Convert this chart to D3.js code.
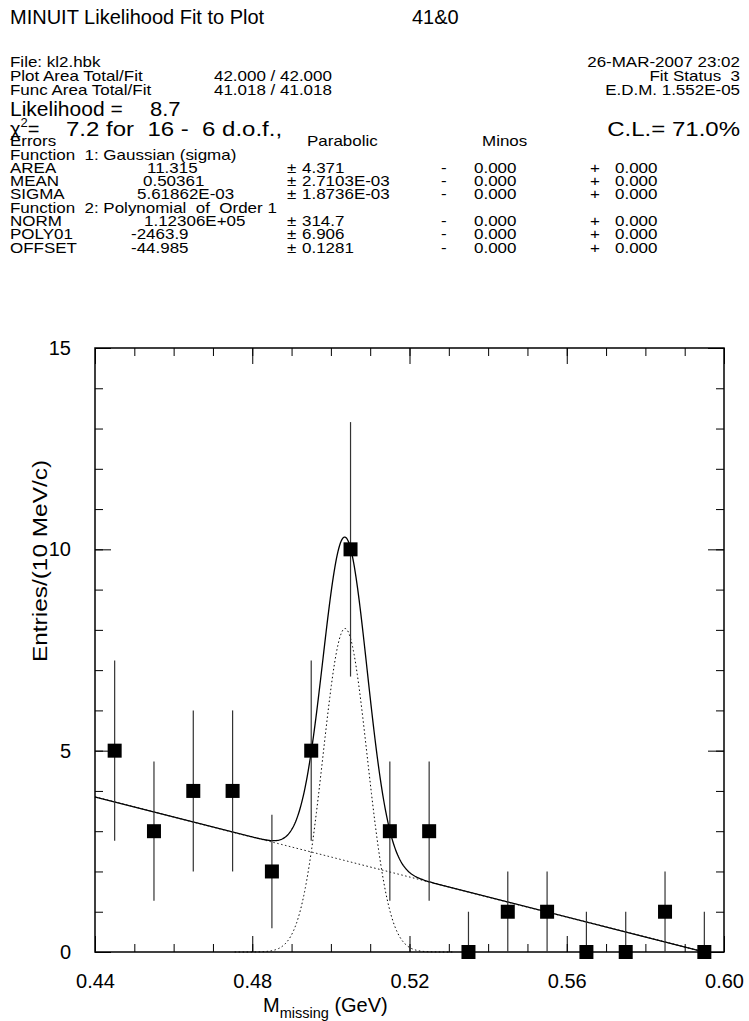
<!DOCTYPE html>
<html>
<head>
<meta charset="utf-8">
<script src="https://cdn.jsdelivr.net/npm/d3@7"></script>
<style>
	body { margin: 0; background: #fff; }
	svg { display: block; font-family: 'Liberation Sans', Arial, sans-serif; }
	.axis path, .axis line { stroke: #000; }
	.axis text { font-size: 20px; fill: #000; }
</style>
</head>
<body>
<svg width="749" height="1021"></svg>
<script>
const binCenters = [0.445, 0.455, 0.465, 0.475, 0.485, 0.495, 0.505, 0.515,
	0.525, 0.535, 0.545, 0.555, 0.565, 0.575, 0.585, 0.595];
const counts = [5, 3, 4, 4, 2, 5, 10, 3, 3, 0, 1, 1, 0, 0, 1, 0];
const errLow = [2.24, 1.73, 2, 2, 1.41, 2.24, 3.16, 1.73, 1.73, 0, 1, 1, 0, 0, 1, 0];
const errHigh = [2.24, 1.73, 2, 2, 1.41, 2.24, 3.16, 1.73, 1.73, 1, 1, 1, 1, 1, 1, 1];

// fitted gaussian (from the parameter table) and background line
const gaussArea = 11.315;
const gaussMean = 0.50361;
const gaussSigma = 5.61862e-3;
const binWidth = 0.01;
const bgX = [0.44, 0.595];
const bgY = [3.85, 0];

const xMajor = [0.44, 0.48, 0.52, 0.56, 0.60];
const yMajor = [0, 5, 10, 15];

const paramNames = ['AREA', 'MEAN', 'SIGMA', 'NORM', 'POLY01', 'OFFSET'];
const paramValues = ['11.315', '0.50361', '5.61862E-03', '1.12306E+05', '-2463.9', '-44.985'];
const paramErrors = ['4.371', '2.7103E-03', '1.8736E-03', '314.7', '6.906', '0.1281'];
const paramValueX = [147, 143, 137, 144, 131, 131];

const svg = d3.select('svg');
const plotLeft = 95, plotRight = 724, plotTop = 348, plotBottom = 952;

const x = d3.scaleLinear().domain([0.44, 0.60]).range([plotLeft, plotRight]);
const y = d3.scaleLinear().domain([0, 15]).range([plotBottom, plotTop]);

// stretch a text sideways (the original plot font is wider than Arial)
const widen = (sel, k) => {
	const w = sel.node().getComputedTextLength();
	sel.attr('textLength', w * k).attr('lengthAdjust', 'spacingAndGlyphs');
	return sel;
};

// ---- header texts
const small = 14.5;
const wide = 1.17;
const header = svg.append('g');
const txt = (s, px, py, size, anchor, k) => {
	const t = header.append('text')
		.attr('x', px).attr('y', py)
		.attr('font-size', size)
		.attr('text-anchor', anchor || 'start')
		.attr('xml:space', 'preserve')
		.text(s);
	return widen(t, k || wide);
};

txt('MINUIT Likelihood Fit to Plot', 10, 24, 20, 'start', 1);
txt('41&0', 412, 24, 20, 'start', 1);
txt('File: kl2.hbk', 10, 67, small);
txt('26-MAR-2007 23:02', 740, 67, small, 'end');
txt('Plot Area Total/Fit', 10, 81, small);
txt('42.000 / 42.000', 214, 81, small);
txt('Fit Status  3', 740, 81, small, 'end');
txt('Func Area Total/Fit', 10, 95, small);
txt('41.018 / 41.018', 214, 95, small);
txt('E.D.M. 1.552E-05', 740, 95, small, 'end');
txt('Likelihood =', 10, 116, 20, 'start', 1.05);
txt('8.7', 150, 116, 20, 'start', 1.1);

const chi = header.append('text')
	.attr('x', 10).attr('y', 136)
	.attr('font-size', 20);
chi.append('tspan').text('\u03C7');
chi.append('tspan').attr('font-size', 13).attr('dy', -9).text('2');
chi.append('tspan').attr('dy', 9).text('=');

txt('7.2 for  16 -  6 d.o.f.,', 66, 136, 20, 'start', 1.2);
txt('C.L.= 71.0%', 740, 136, 20, 'end', 1.2);
txt('Errors', 10, 146, small);
txt('Parabolic', 307, 146, small);
txt('Minos', 482, 146, small);

let rowY = 159.5;
const rowStep = 13.33;
txt('Function  1: Gaussian (sigma)', 10, rowY, small);
paramNames.forEach((name, i) => {
	if (i === 3) {
		rowY += rowStep;
		txt('Function  2: Polynomial  of  Order 1', 10, rowY, small);
	}
	rowY += rowStep;
	txt(name, 10, rowY, small);
	txt(paramValues[i], paramValueX[i], rowY, small);
	txt('\u00B1', 287, rowY, small);
	txt(paramErrors[i], 302, rowY, small);
	txt('-', 441, rowY, small);
	txt('0.000', 474, rowY, small);
	txt('+', 590, rowY, small);
	txt('0.000', 615, rowY, small);
});

// ---- axes
const xMinor = d3.range(0.44, 0.6001, 0.01);
const yMinor = d3.range(0, 15.001, 1);

const noDomain = (g) => g.select('.domain').remove();

svg.append('g').attr('class', 'axis')
	.attr('transform', `translate(0,${plotBottom})`)
	.call(d3.axisBottom(x).tickValues(xMinor).tickSize(-8).tickFormat(''))
	.call(noDomain);
svg.append('g').attr('class', 'axis')
	.attr('transform', `translate(0,${plotBottom})`)
	.call(d3.axisBottom(x).tickValues(xMajor).tickSize(-16).tickPadding(22)
		.tickFormat(d3.format('.2f')))
	.call(noDomain);
svg.append('g').attr('class', 'axis')
	.attr('transform', `translate(0,${plotTop})`)
	.call(d3.axisTop(x).tickValues(xMinor).tickSize(-8).tickFormat(''))
	.call(noDomain);
svg.append('g').attr('class', 'axis')
	.attr('transform', `translate(0,${plotTop})`)
	.call(d3.axisTop(x).tickValues(xMajor).tickSize(-16).tickFormat(''))
	.call(noDomain);

svg.append('g').attr('class', 'axis')
	.attr('transform', `translate(${plotLeft},0)`)
	.call(d3.axisLeft(y).tickValues(yMinor).tickSize(-8).tickFormat(''))
	.call(noDomain);
svg.append('g').attr('class', 'axis')
	.attr('transform', `translate(${plotLeft},0)`)
	.call(d3.axisLeft(y).tickValues(yMajor).tickSize(-16).tickPadding(24))
	.call(noDomain);
svg.append('g').attr('class', 'axis')
	.attr('transform', `translate(${plotRight},0)`)
	.call(d3.axisRight(y).tickValues(yMinor).tickSize(-8).tickFormat(''))
	.call(noDomain);
svg.append('g').attr('class', 'axis')
	.attr('transform', `translate(${plotRight},0)`)
	.call(d3.axisRight(y).tickValues(yMajor).tickSize(-16).tickFormat(''))
	.call(noDomain);

svg.append('rect')
	.attr('x', plotLeft).attr('y', plotTop)
	.attr('width', plotRight - plotLeft).attr('height', plotBottom - plotTop)
	.attr('fill', 'none').attr('stroke', '#000').attr('stroke-width', 1.5);

// axis titles
const xt = svg.append('text')
	.attr('x', 263).attr('y', 1012)
	.attr('font-size', 20);
xt.append('tspan').text('M');
xt.append('tspan').attr('font-size', 14.5).attr('dy', 6).text('missing');
xt.append('tspan').attr('dy', -6).text(' (GeV)');

const yt = svg.append('text')
	.attr('transform', 'translate(47,561) rotate(-90)')
	.attr('text-anchor', 'middle')
	.attr('font-size', 20)
	.text('Entries/(10 MeV/c)');
widen(yt, 1.22);

// ---- fit curves
const bgScale = d3.scaleLinear().domain(bgX).range(bgY);
const bg = (v) => Math.max(0, bgScale(v));
const gaussAmp = gaussArea * binWidth / (Math.sqrt(2 * Math.PI) * gaussSigma);
const gauss = (v) => gaussAmp * Math.exp(-0.5 * ((v - gaussMean) / gaussSigma) ** 2);

const line = d3.line().x(d => x(d[0])).y(d => y(d[1]));
const xsFull = d3.range(0.44, 0.595 + 1e-9, 0.0002);
const xsGauss = d3.range(gaussMean - 5 * gaussSigma, gaussMean + 5 * gaussSigma, 0.0002);

const curves = svg.append('g').attr('fill', 'none');
curves.append('path')
	.attr('d', line(xsFull.map(v => [v, bg(v)])))
	.attr('stroke', '#000').attr('stroke-width', 1)
	.attr('stroke-dasharray', '1.5,2.5');
curves.append('path')
	.attr('d', line(xsGauss.map(v => [v, gauss(v)])))
	.attr('stroke', '#000').attr('stroke-width', 1)
	.attr('stroke-dasharray', '1.5,2.5');
curves.append('path')
	.attr('d', line(xsFull.map(v => [v, gauss(v) + bg(v)])))
	.attr('stroke', '#000').attr('stroke-width', 1.3);

// ---- data points
const pts = svg.append('g');
pts.selectAll('line')
	.data(binCenters)
	.enter()
		.append('line')
		.attr('x1', d => x(d))
		.attr('x2', d => x(d))
		.attr('y1', (d, i) => y(counts[i] - errLow[i]))
		.attr('y2', (d, i) => y(counts[i] + errHigh[i]))
		.attr('stroke', '#333')
		.attr('stroke-width', 1.2);
pts.selectAll('rect')
	.data(binCenters)
	.enter()
		.append('rect')
		.attr('x', d => x(d) - 7)
		.attr('y', (d, i) => y(counts[i]) - 7)
		.attr('width', 14)
		.attr('height', 14)
		.attr('fill', '#000');
</script>
</body>
</html>
